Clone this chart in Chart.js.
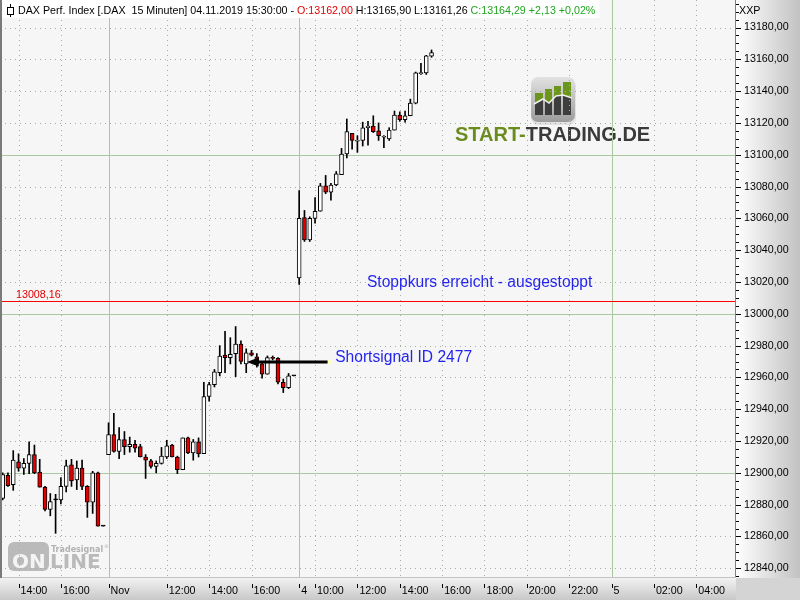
<!DOCTYPE html>
<html>
<head>
<meta charset="utf-8">
<script src="https://cdn.jsdelivr.net/npm/chart.js@4.4.1/dist/chart.umd.min.js"></script>
<style>
  html, body { margin: 0; padding: 0; background: #f6f6f6; }
  #chart { display: block; }
</style>
</head>
<body>
<canvas id="chart" width="800" height="600"></canvas>
<script>
// 15 minute candles, 31.10.2019 13:15 .. 04.11.2019 15:30 (one entry per bar)
const openPrices = [
  12884, 12898.5, 12892.5, 12907, 12903, 12906, 12911.5, 12900.5, 12891, 12877,
  12883, 12883, 12891.5, 12905, 12895.5, 12903, 12891.5, 12881.5, 12900, 12866.5,
  12911.5, 12924, 12913.5, 12921, 12916.5, 12918, 12916.5, 12910, 12907.5, 12904,
  12906, 12910, 12917.5, 12910, 12902, 12922, 12912.5, 12919.5, 12912, 12948,
  12955.5, 12963, 12974, 12972.5, 12975, 12981, 12968.5, 12975.5, 12973, 12968.5,
  12962, 12972.5, 12972, 12957, 12953.5, 12961,
  13022.5, 13060.5, 13046.5, 13060, 13064.5, 13080.5, 13076.5, 13081, 13087.5, 13100.5,
  13113.5, 13108.5, 13109, 13117, 13118, 13115, 13111, 13110, 13115.5, 13125,
  13122, 13124.5, 13132.5, 13151, 13151.5, 13162.00
];
const highPrices = [
  12900, 12900, 12914, 12912, 12909, 12919.5, 12917.5, 12908.5, 12891.5, 12887,
  12886.5, 12897, 12908, 12908.5, 12907.5, 12908, 12892, 12901, 12900.5, 12866.5,
  12931.5, 12937.5, 12928.5, 12926, 12922.5, 12920.5, 12918, 12911.5, 12908.5, 12907.5,
  12916, 12920.5, 12918, 12910.5, 12922, 12922.5, 12921, 12922, 12957, 12957,
  12965, 12980, 12989, 12985, 12992, 12983, 12978, 12977, 12975, 12969.5,
  12973.5, 12973.5, 12972.5, 12959, 12962.5, 12961,
  13077.5, 13065, 13061, 13073, 13082, 13087, 13082, 13089.5, 13104, 13122.5,
  13113.5, 13112, 13120.5, 13121, 13124.5, 13120, 13112, 13117, 13127.5, 13127,
  13127.5, 13135, 13152, 13157.5, 13162.5, 13165.90
];
const lowPrices = [
  12883, 12891.5, 12889, 12901, 12899, 12899.5, 12899.5, 12891, 12876, 12873,
  12862, 12880.5, 12888, 12891.5, 12889.5, 12889.5, 12872, 12874.5, 12866.5, 12866.5,
  12911.5, 12913, 12909, 12911.5, 12913, 12913, 12910, 12896.5, 12903, 12900,
  12905.5, 12909, 12910, 12899.5, 12902, 12912, 12908, 12910, 12912, 12945,
  12954, 12961, 12963, 12968.5, 12960.5, 12968.5, 12963, 12973.5, 12966.5, 12959.5,
  12962, 12971, 12956, 12950.5, 12953, 12961,
  13018.5, 13045.5, 13045.5, 13057, 13064.5, 13075.5, 13071.5, 13080.5, 13087.5, 13098,
  13103.5, 13101.5, 13105.5, 13106, 13114, 13109, 13104.5, 13109, 13115.5, 13121,
  13120.5, 13124.5, 13132, 13150.5, 13150.5, 13161.26
];
const closePrices = [
  12899, 12892, 12908, 12903, 12906, 12911.5, 12900, 12891, 12877, 12882,
  12883, 12891.5, 12904.5, 12895, 12903, 12891.5, 12881.5, 12900, 12866.5, 12866.5,
  12924, 12913.5, 12921, 12916.5, 12918, 12915.5, 12910, 12908, 12904, 12906,
  12910.5, 12917, 12910, 12902, 12922, 12912.5, 12919.5, 12912, 12948, 12955.5,
  12963.5, 12973.5, 12972.5, 12974.5, 12981, 12970, 12975.5, 12974, 12968.5, 12962,
  12972.5, 12972, 12957, 12953.5, 12961, 12961,
  13060, 13046.5, 13060, 13064.5, 13080.5, 13076.5, 13081, 13088, 13100.5, 13114.5,
  13109, 13109, 13117, 13118, 13114.5, 13112, 13111.5, 13115.5, 13125, 13122,
  13124.5, 13132.5, 13151.5, 13151.5, 13162.16, 13164.29
];

// time axis (bar index -> label)
const tickIndex = [3, 11, 20, 31, 39, 47, 56, 59, 67, 75, 83, 91, 99, 107, 115, 123, 131];
const tickText = ['14:00', '16:00', 'Nov', '12:00', '14:00', '16:00', '4', '10:00', '12:00',
  '14:00', '16:00', '18:00', '20:00', '22:00', '5', '02:00', '04:00'];
const dayStarts = [20, 56, 115];
const xMin = -0.5, xMax = 138.5;

// price axis
const priceTicks = [12840, 12860, 12880, 12900, 12920, 12940, 12960, 12980, 13000,
  13020, 13040, 13060, 13080, 13100, 13120, 13140, 13160, 13180];
const yMin = 12833.9, yMax = 13197.3;

const stopLevel = 13008.16;
const signalArrow = { from: 61.4, to: 46.1, price: 12970 };
const signalText = { text: 'Shortsignal ID 2477', at: 62.8, price: 12972.3 };
const stopText = { text: 'Stoppkurs erreicht - ausgestoppt', at: 68.8, price: 13019.5 };

const FONT = '"Liberation Sans", Arial, sans-serif';
const fmt = v => v.toFixed(2).replace('.', ',');
const signed = v => (v >= 0 ? '+' : '') + fmt(v);

Chart.defaults.font.family = FONT;
Chart.defaults.font.size = 10.7;

const bodyData = openPrices.map((o, i) => ({ x: i, y: [Math.min(o, closePrices[i]), Math.max(o, closePrices[i])] }));
const wickData = lowPrices.map((l, i) => ({ x: i, y: [l, highPrices[i]] }));
const bodyColors = openPrices.map((o, i) =>
  closePrices[i] > o ? '#ffffff' : closePrices[i] < o ? '#e00000' : '#000000');

function crisp(p) { return Math.round(p) + 0.5; }

function drawTradesignalLogo(ctx) {
  ctx.save();
  ctx.fillStyle = '#bababa';
  ctx.beginPath();
  ctx.roundRect(8, 542, 41, 29, 6);
  ctx.fill();
  ctx.font = 'bold 20px "DejaVu Sans"';
  ctx.textBaseline = 'alphabetic';
  ctx.fillStyle = '#f4f4f4';
  ctx.fillText('ON', 12, 568);
  ctx.fillStyle = '#bababa';
  ctx.fillText('LINE', 50, 568);
  ctx.font = 'bold 8px "DejaVu Sans"';
  ctx.fillStyle = '#b2b2b2';
  ctx.fillText('Tradesignal', 51, 552);
  ctx.font = '5px "DejaVu Sans"';
  ctx.fillText('®', 104, 548);
  ctx.restore();
}

function drawStartTradingLogo(ctx) {
  ctx.save();
  // icon
  ctx.fillStyle = 'rgba(0,0,0,0.08)';
  ctx.beginPath(); ctx.roundRect(531, 79, 45, 46, 7); ctx.fill();
  const g = ctx.createLinearGradient(0, 77, 0, 122);
  g.addColorStop(0, '#e2e2e2'); g.addColorStop(1, '#9c9c9c');
  ctx.fillStyle = g;
  ctx.beginPath(); ctx.roundRect(531, 77, 44, 45, 7); ctx.fill();
  const bars = [[535, 93, 8], [545, 89, 7], [554, 86, 7], [563, 82, 8]];
  ctx.fillStyle = '#6c951c';
  bars.forEach(([bx, by, bw]) => ctx.fillRect(bx, by, bw, 115 - by));
  ctx.save();
  ctx.beginPath();
  bars.forEach(([bx, by, bw]) => ctx.rect(bx, by, bw, 115 - by));
  ctx.clip();
  ctx.fillStyle = '#3d3d3d';
  ctx.beginPath();
  ctx.moveTo(534, 104); ctx.lineTo(543, 99); ctx.lineTo(549, 103); ctx.lineTo(556, 96);
  ctx.lineTo(563, 95); ctx.lineTo(572, 98); ctx.lineTo(572, 116); ctx.lineTo(534, 116);
  ctx.closePath(); ctx.fill();
  ctx.restore();
  ctx.strokeStyle = '#f0f0f0'; ctx.lineWidth = 1.5;
  ctx.beginPath();
  ctx.moveTo(534, 104); ctx.lineTo(543, 99); ctx.lineTo(549, 103); ctx.lineTo(556, 96);
  ctx.lineTo(563, 95); ctx.lineTo(572, 98);
  ctx.stroke();
  // wordmark
  ctx.font = 'bold 20px ' + FONT;
  ctx.textBaseline = 'alphabetic';
  ctx.fillStyle = '#6a8c1c';
  ctx.fillText('START-', 455, 141);
  const w = ctx.measureText('START-').width;
  ctx.fillStyle = '#3a3a3a';
  ctx.fillText('TRADING.DE', 455 + w, 141);
  ctx.restore();
}

const chartDecor = {
  id: 'chartDecor',
  beforeDraw(chart) {
    const { ctx, chartArea: a, width, height } = chart;
    ctx.save();
    ctx.fillStyle = '#f6f6f6';
    ctx.fillRect(0, 0, width, height);
    let g = ctx.createLinearGradient(a.right, 0, width, 0);
    g.addColorStop(0, '#ffffff'); g.addColorStop(1, '#c2c2c2');
    ctx.fillStyle = g;
    ctx.fillRect(a.right, 0, width - a.right, a.bottom);
    g = ctx.createLinearGradient(0, a.bottom, 0, height);
    g.addColorStop(0, '#f2f2f2'); g.addColorStop(1, '#c8c8c8');
    ctx.fillStyle = g;
    ctx.fillRect(0, a.bottom, a.right, height - a.bottom);
    ctx.fillStyle = '#d4d4d4';
    ctx.fillRect(a.right, a.bottom, width - a.right, height - a.bottom);
    ctx.restore();
  },
  beforeDatasetsDraw(chart) {
    const { ctx, chartArea: a, scales: { x, y } } = chart;
    ctx.save();
    ctx.beginPath(); ctx.rect(a.left, a.top, a.width, a.height); ctx.clip();
    drawTradesignalLogo(ctx);
    drawStartTradingLogo(ctx);
    ctx.lineWidth = 1;
    // dotted grid
    ctx.strokeStyle = '#a3aea3';
    ctx.setLineDash([1, 4]);
    priceTicks.forEach(v => {
      if (v % 100 === 0) return;
      const py = crisp(y.getPixelForValue(v));
      ctx.beginPath(); ctx.moveTo(a.left, py); ctx.lineTo(a.right, py); ctx.stroke();
    });
    tickIndex.forEach(v => {
      if (dayStarts.includes(v)) return;
      const px = crisp(x.getPixelForValue(v));
      ctx.beginPath(); ctx.moveTo(px, a.top); ctx.lineTo(px, a.bottom); ctx.stroke();
    });
    // solid green lines
    ctx.setLineDash([]);
    ctx.strokeStyle = '#a7c8a0';
    priceTicks.forEach(v => {
      if (v % 100 !== 0) return;
      const py = crisp(y.getPixelForValue(v));
      ctx.beginPath(); ctx.moveTo(a.left, py); ctx.lineTo(a.right, py); ctx.stroke();
    });
    dayStarts.forEach(v => {
      const px = crisp(x.getPixelForValue(v));
      ctx.beginPath(); ctx.moveTo(px, a.top); ctx.lineTo(px, a.bottom); ctx.stroke();
    });
    // stop level
    ctx.fillStyle = '#ff0000';
    ctx.fillRect(a.left, Math.round(y.getPixelForValue(stopLevel)), a.width, 1);
    ctx.restore();
  },
  afterDatasetsDraw(chart) {
    const { ctx, chartArea: a, scales: { x, y } } = chart;
    ctx.save();
    // stop level label
    const sy = y.getPixelForValue(stopLevel);
    ctx.font = '10.7px ' + FONT;
    ctx.fillStyle = '#e00000';
    ctx.textBaseline = 'alphabetic';
    ctx.fillText(fmt(stopLevel), a.left + 16, sy - 3);

    // signal arrow
    const ax1 = x.getPixelForValue(signalArrow.from);
    const ax2 = x.getPixelForValue(signalArrow.to);
    const ay = Math.round(y.getPixelForValue(signalArrow.price));
    ctx.strokeStyle = '#000'; ctx.fillStyle = '#000'; ctx.lineWidth = 3;
    ctx.beginPath(); ctx.moveTo(ax1, ay); ctx.lineTo(ax2 + 10, ay); ctx.stroke();
    ctx.beginPath();
    ctx.moveTo(ax2, ay); ctx.lineTo(ax2 + 12, ay - 4.5); ctx.lineTo(ax2 + 12, ay + 4.5);
    ctx.closePath(); ctx.fill();
    ctx.fillStyle = '#ffffc0';
    ctx.fillRect(ax1, ay - 2, 4, 4);

    // annotation texts
    ctx.font = '15.6px ' + FONT;
    ctx.fillStyle = '#2424ee';
    ctx.textBaseline = 'middle';
    [signalText, stopText].forEach(t => {
      ctx.fillText(t.text, x.getPixelForValue(t.at), y.getPixelForValue(t.price));
    });

    // header
    const n = closePrices.length - 1;
    const chg = closePrices[n] - closePrices[n - 1];
    const pct = chg / closePrices[n - 1] * 100;
    const segs = [
      ['DAX Perf. Index [.DAX  15 Minuten] 04.11.2019 15:30:00 - ', '#000000'],
      ['O:' + fmt(openPrices[n]), '#e00000'],
      [' H:' + fmt(highPrices[n]) + ' L:' + fmt(lowPrices[n]) + ' ', '#000000'],
      ['C:' + fmt(closePrices[n]) + ' ' + signed(chg) + ' ' + signed(pct) + '%', '#1ea51e']
    ];
    ctx.font = '10.7px ' + FONT;
    ctx.textBaseline = 'alphabetic';
    let total = 0;
    segs.forEach(s => { total += ctx.measureText(s[0]).width; });
    ctx.fillStyle = '#ffffff';
    ctx.fillRect(0, 0, 18 + total + 4, 18);
    let tx = 18;
    segs.forEach(([t, c]) => { ctx.fillStyle = c; ctx.fillText(t, tx, 14); tx += ctx.measureText(t).width; });
    // header candle icon
    ctx.lineWidth = 1; ctx.strokeStyle = '#000';
    ctx.beginPath(); ctx.moveTo(10.5, 4); ctx.lineTo(10.5, 17); ctx.stroke();
    ctx.fillStyle = '#fff';
    ctx.fillRect(7.5, 7.5, 6, 7); ctx.strokeRect(7.5, 7.5, 6, 7);

    // borders
    ctx.strokeStyle = '#808080';
    ctx.beginPath(); ctx.moveTo(crisp(a.right) - 1, 0); ctx.lineTo(crisp(a.right) - 1, a.bottom); ctx.stroke();
    ctx.strokeStyle = '#c4c4c4';
    ctx.beginPath(); ctx.moveTo(0, a.bottom - 0.5); ctx.lineTo(a.right, a.bottom - 0.5); ctx.stroke();
    ctx.strokeStyle = '#7a7a7a'; ctx.lineWidth = 2;
    ctx.beginPath(); ctx.moveTo(1, 0); ctx.lineTo(1, a.bottom); ctx.stroke();

    // price axis tick marks (minor every 5)
    ctx.lineWidth = 1; ctx.strokeStyle = '#000';
    for (let v = Math.ceil(yMin / 5) * 5; v <= yMax; v += 5) {
      const py = crisp(y.getPixelForValue(v));
      const len = v % 20 === 0 ? 5 : 3;
      ctx.beginPath(); ctx.moveTo(a.right, py); ctx.lineTo(a.right + len, py); ctx.stroke();
    }
    ctx.font = '10.7px ' + FONT;
    ctx.fillStyle = '#000';
    ctx.fillText('XXP', a.right + 3, 14);

    // time axis tick marks
    tickIndex.forEach(v => {
      const px = crisp(x.getPixelForValue(v));
      ctx.beginPath(); ctx.moveTo(px, a.bottom + 6); ctx.lineTo(px, a.bottom + 10); ctx.stroke();
    });
    ctx.restore();
  }
};

new Chart(document.getElementById('chart'), {
  type: 'bar',
  data: {
    datasets: [
      {
        data: bodyData,
        backgroundColor: bodyColors,
        borderColor: '#000000',
        borderWidth: 1,
        borderSkipped: false,
        barThickness: 4,
        minBarLength: 1,
        grouped: false
      },
      {
        data: wickData,
        backgroundColor: '#000000',
        borderWidth: 0,
        barThickness: 1,
        grouped: false
      }
    ]
  },
  options: {
    responsive: false,
    animation: false,
    layout: { padding: 0 },
    plugins: { legend: { display: false }, tooltip: { enabled: false } },
    scales: {
      x: {
        type: 'linear',
        offset: false,
        min: xMin,
        max: xMax,
        bounds: 'data',
        grid: { display: false, drawTicks: false, offset: false },
        border: { display: false },
        afterBuildTicks: (s) => { s.ticks = tickIndex.map(v => ({ value: v })); },
        ticks: {
          align: 'start',
          labelOffset: 2,
          padding: 7,
          maxRotation: 0,
          autoSkip: false,
          color: '#000000',
          callback: (v, i) => tickText[i]
        },
        afterFit: (s) => { s.height = 22; s.paddingLeft = 0; s.paddingRight = 0; }
      },
      y: {
        type: 'linear',
        position: 'right',
        min: yMin,
        max: yMax,
        bounds: 'data',
        grid: { display: false, drawTicks: false },
        border: { display: false },
        afterBuildTicks: (s) => { s.ticks = priceTicks.map(v => ({ value: v })); },
        ticks: {
          padding: 8,
          color: '#000000',
          callback: (v) => fmt(v)
        },
        afterFit: (s) => { s.width = 64; s.paddingTop = 0; s.paddingBottom = 0; }
      }
    }
  },
  plugins: [chartDecor]
});
</script>
</body>
</html>
